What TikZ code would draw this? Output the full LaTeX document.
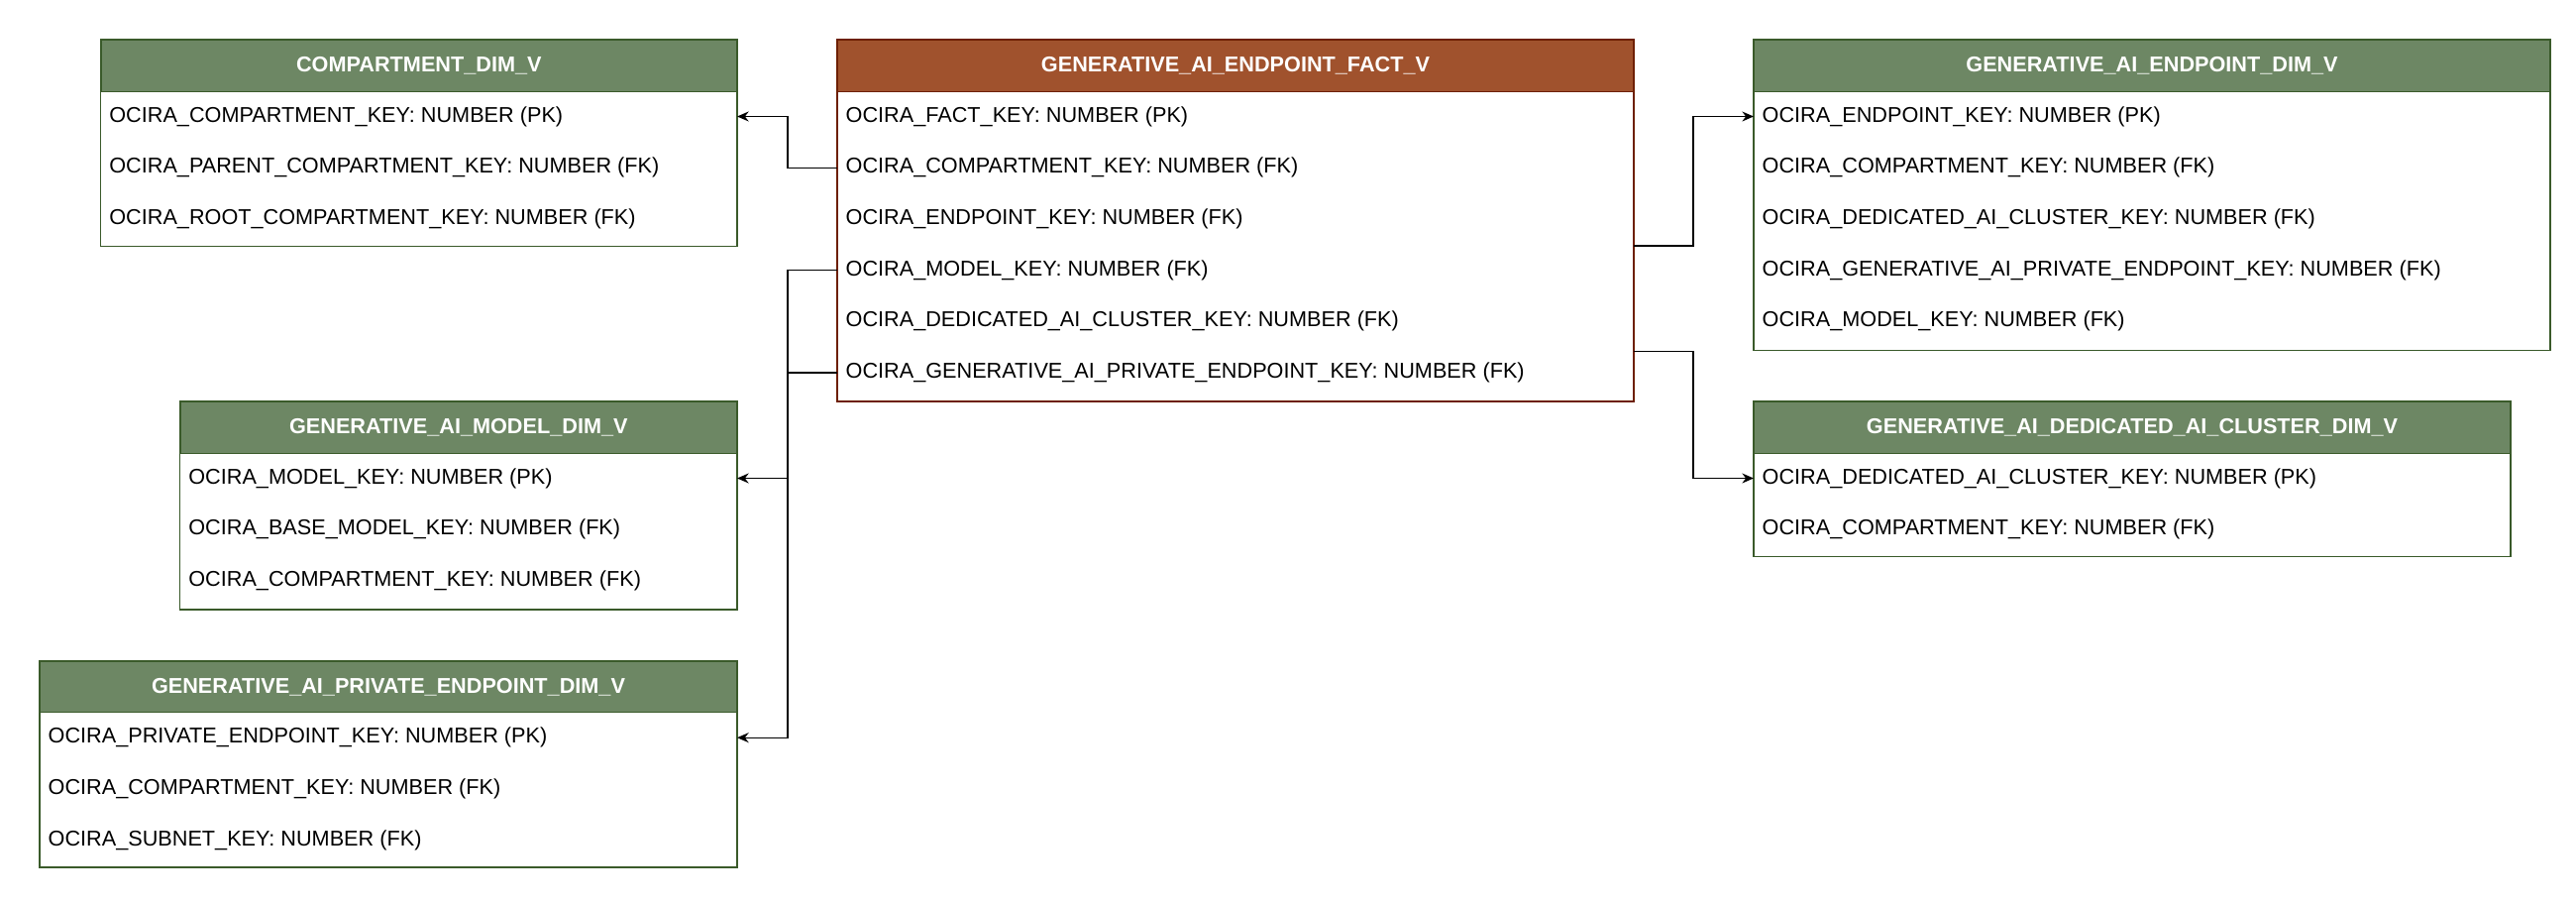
\documentclass[tikz,border=0pt]{standalone}
\usepackage{fontspec}
\setmainfont{Liberation Sans}
\usetikzlibrary{arrows.meta}
\definecolor{hg}{HTML}{6D8764}
\definecolor{bg}{HTML}{3A5A2A}
\definecolor{hr}{HTML}{A0522D}
\definecolor{br}{HTML}{6D1F00}
\tikzset{
 hdr/.style={draw, text=white, font=\fontsize{13}{15}\selectfont\bfseries, minimum height=31pt, inner sep=0pt, anchor=north west},
 row/.style={anchor=west, inner sep=0pt, font=\fontsize{13}{15}\selectfont},
 link/.style={draw=black, line width=0.8pt, -{Stealth[length=7pt,width=6pt]}}
}
\newcommand\erbox[9]{%
 \node[hdr, fill=#6, draw=#7, minimum width=#4pt] (#1) at (#2,#3) {#5};
 \foreach \t [count=\i] in {#8} {\node[row] (#1-\i) at (#2+5,#3+15.5+31*\i) {\t};}
 \draw[#7, line width=0.8pt] (#1.north west) rectangle ($(#1.north east)+(0,#9)$);
}
\usetikzlibrary{calc}
\begin{document}
\begin{tikzpicture}[x=1pt,y=-1pt]
\useasboundingbox (0,0) rectangle (1560,547);
\erbox{c}{61}{24}{385}{COMPARTMENT\_DIM\_V}{hg}{bg}{OCIRA\_COMPARTMENT\_KEY: NUMBER (PK),OCIRA\_PARENT\_COMPARTMENT\_KEY: NUMBER (FK),OCIRA\_ROOT\_COMPARTMENT\_KEY: NUMBER (FK)}{125}
\erbox{f}{507}{24}{482}{GENERATIVE\_AI\_ENDPOINT\_FACT\_V}{hr}{br}{OCIRA\_FACT\_KEY: NUMBER (PK),OCIRA\_COMPARTMENT\_KEY: NUMBER (FK),OCIRA\_ENDPOINT\_KEY: NUMBER (FK),OCIRA\_MODEL\_KEY: NUMBER (FK),OCIRA\_DEDICATED\_AI\_CLUSTER\_KEY: NUMBER (FK),OCIRA\_GENERATIVE\_AI\_PRIVATE\_ENDPOINT\_KEY: NUMBER (FK)}{219}
\erbox{e}{1062}{24}{482}{GENERATIVE\_AI\_ENDPOINT\_DIM\_V}{hg}{bg}{OCIRA\_ENDPOINT\_KEY: NUMBER (PK),OCIRA\_COMPARTMENT\_KEY: NUMBER (FK),OCIRA\_DEDICATED\_AI\_CLUSTER\_KEY: NUMBER (FK),OCIRA\_GENERATIVE\_AI\_PRIVATE\_ENDPOINT\_KEY: NUMBER (FK),OCIRA\_MODEL\_KEY: NUMBER (FK)}{188}
\erbox{m}{109}{243}{337}{GENERATIVE\_AI\_MODEL\_DIM\_V}{hg}{bg}{OCIRA\_MODEL\_KEY: NUMBER (PK),OCIRA\_BASE\_MODEL\_KEY: NUMBER (FK),OCIRA\_COMPARTMENT\_KEY: NUMBER (FK)}{126}
\erbox{p}{24}{400}{422}{GENERATIVE\_AI\_PRIVATE\_ENDPOINT\_DIM\_V}{hg}{bg}{OCIRA\_PRIVATE\_ENDPOINT\_KEY: NUMBER (PK),OCIRA\_COMPARTMENT\_KEY: NUMBER (FK),OCIRA\_SUBNET\_KEY: NUMBER (FK)}{125}
\erbox{d}{1062}{243}{458}{GENERATIVE\_AI\_DEDICATED\_AI\_CLUSTER\_DIM\_V}{hg}{bg}{OCIRA\_DEDICATED\_AI\_CLUSTER\_KEY: NUMBER (PK),OCIRA\_COMPARTMENT\_KEY: NUMBER (FK)}{94}
\draw[link] (f-2 -| f.west) -- ++(-30,0) |- (c-1 -| c.east);
\draw[link] (f-4 -| f.west) -- ++(-30,0) |- (m-1 -| m.east);
\draw[link] (f-6 -| f.west) -- ++(-30,0) |- (p-1 -| p.east);
\draw[link] ($(f.east)+(0,109)$) -- ++(36,0) |- (e-1 -| e.west);
\draw[link] ($(f.east)+(0,173)$) -- ++(36,0) |- (d-1 -| d.west);
\end{tikzpicture}
\end{document}
